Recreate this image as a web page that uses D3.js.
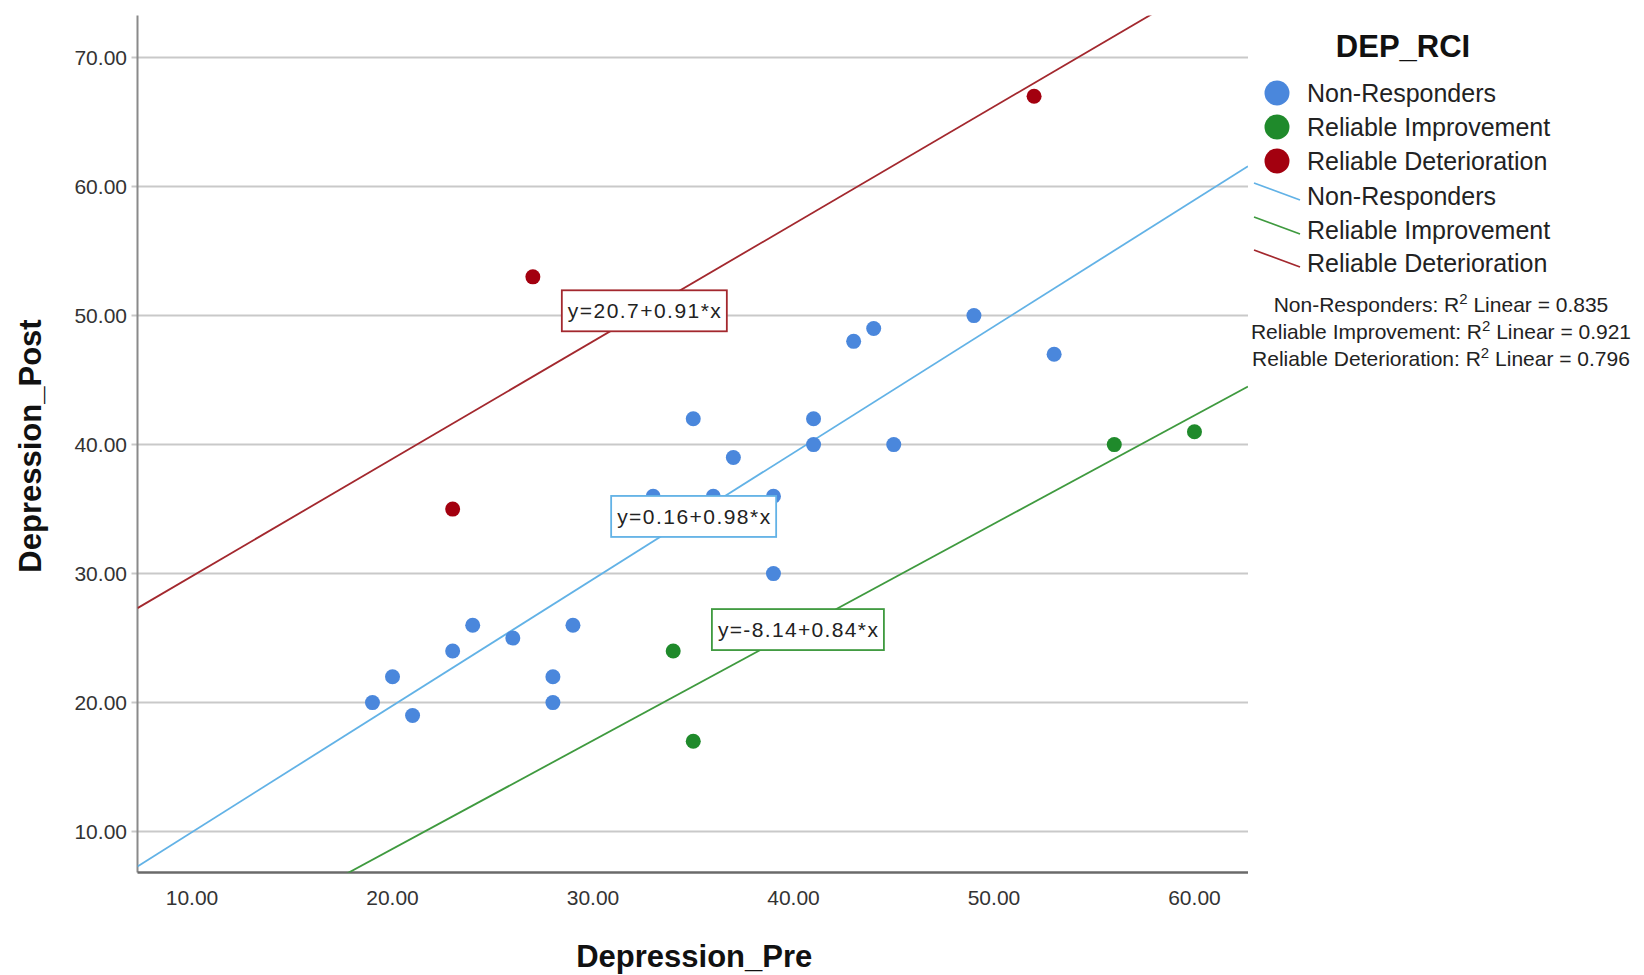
<!DOCTYPE html>
<html>
<head>
<meta charset="utf-8">
<script src="https://cdn.jsdelivr.net/npm/d3@7"></script>
<style>
  html, body { margin: 0; padding: 0; background: #fff; }
  svg { display: block; font-family: Arial, "Liberation Sans", sans-serif; }
</style>
</head>
<body>
<svg id="chart" width="1644" height="975"></svg>
<script>
// Groups from the reliable change index
const groups = ["Non-Responders", "Reliable Improvement", "Reliable Deterioration"];

// Depression scores before and after, per group
const nonRespPre  = [19, 20, 21, 23, 24, 26, 28, 28, 29, 33, 35, 36, 37, 39, 39, 41, 41, 43, 44, 45, 49, 53];
const nonRespPost = [20, 22, 19, 24, 26, 25, 22, 20, 26, 36, 42, 36, 39, 36, 30, 42, 40, 48, 49, 40, 50, 47];
const improvPre   = [34, 35, 56, 60];
const improvPost  = [24, 17, 40, 41];
const deterPre    = [23, 27, 52];
const deterPost   = [35, 53, 67];

// Linear fits per group: intercept, slope, R squared
const fitIntercept = [0.16, -8.14, 20.7];
const fitSlope     = [0.98, 0.84, 0.91];
const fitR2        = [0.835, 0.921, 0.796];
const fitLabels    = ["y=0.16+0.98*x", "y=-8.14+0.84*x", "y=20.7+0.91*x"];
// where each equation box sits, in data units (centre)
const labelAtX = [35.02, 40.22, 32.56];
const labelAtY = [34.43, 25.66, 50.37];

const xTicks = [10, 20, 30, 40, 50, 60];
const yTicks = [10, 20, 30, 40, 50, 60, 70];

const pointColors = ["#4a87dc", "#1f8a2b", "#a3000f"];
const lineColors  = ["#62b2e6", "#3f9a3f", "#a3282e"];

const series = [
  { pre: nonRespPre, post: nonRespPost },
  { pre: improvPre,  post: improvPost },
  { pre: deterPre,   post: deterPost }
];

const svg = d3.select("#chart");
const plotL = 137.5, plotR = 1248, plotT = 15.5, plotB = 872.5;

const x = d3.scaleLinear().domain([7.28, 62.67]).range([plotL, plotR]);
const y = d3.scaleLinear().domain([6.83, 73.26]).range([plotB, plotT]);
const fmt = d3.format(".2f");

// horizontal gridlines
svg.append("g").selectAll("line").data(yTicks).join("line")
  .attr("x1", plotL - 6).attr("x2", plotR)
  .attr("y1", d => y(d)).attr("y2", d => y(d))
  .attr("stroke", "#c9c9c9").attr("stroke-width", 2);

// y axis labels
svg.append("g").selectAll("text").data(yTicks).join("text")
  .attr("x", 127).attr("y", d => y(d)).attr("dy", "0.35em")
  .attr("text-anchor", "end").attr("font-size", 21).attr("fill", "#333")
  .text(d => fmt(d));

// x axis labels
svg.append("g").selectAll("text").data(xTicks).join("text")
  .attr("x", d => x(d)).attr("y", 898).attr("dy", "0.35em")
  .attr("text-anchor", "middle").attr("font-size", 21).attr("fill", "#333")
  .text(d => fmt(d));

// axis lines
svg.append("line").attr("x1", plotL).attr("x2", plotL).attr("y1", plotT).attr("y2", plotB)
  .attr("stroke", "#8a8a8a").attr("stroke-width", 2);
svg.append("line").attr("x1", plotL).attr("x2", plotR).attr("y1", plotB).attr("y2", plotB)
  .attr("stroke", "#6a6a6a").attr("stroke-width", 2.5);

// axis titles
svg.append("text").attr("x", x(35.05)).attr("y", 956).attr("dy", "0.35em")
  .attr("text-anchor", "middle").attr("font-size", 31).attr("font-weight", "bold").attr("fill", "#111")
  .text("Depression_Pre");
svg.append("text").attr("transform", "translate(30,446) rotate(-90)").attr("dy", "0.35em")
  .attr("text-anchor", "middle").attr("font-size", 31).attr("font-weight", "bold").attr("fill", "#111")
  .text("Depression_Post");

// clip for fit lines
svg.append("clipPath").attr("id", "plotClip").append("rect")
  .attr("x", plotL).attr("y", plotT).attr("width", plotR - plotL).attr("height", plotB - plotT);

const [x0, x1] = x.domain();
svg.append("g").attr("clip-path", "url(#plotClip)")
  .selectAll("line").data(groups).join("line")
  .attr("x1", x(x0)).attr("x2", x(x1))
  .attr("y1", (d, i) => y(fitIntercept[i] + fitSlope[i] * x0))
  .attr("y2", (d, i) => y(fitIntercept[i] + fitSlope[i] * x1))
  .attr("stroke", (d, i) => lineColors[i]).attr("stroke-width", 1.8);

// points
series.forEach((s, i) => {
  svg.append("g").selectAll("circle").data(s.pre).join("circle")
    .attr("cx", d => x(d)).attr("cy", (d, j) => y(s.post[j]))
    .attr("r", 7.5).attr("fill", pointColors[i]);
});

// equation boxes
groups.forEach((g, i) => {
  const cx = x(labelAtX[i]), cy = y(labelAtY[i]);
  const w = i === 1 ? 172 : 165, h = 41;
  svg.append("rect").attr("x", cx - w / 2).attr("y", cy - h / 2).attr("width", w).attr("height", h)
    .attr("fill", "#fff").attr("stroke", lineColors[i]).attr("stroke-width", 1.8);
  svg.append("text").attr("x", cx).attr("y", cy).attr("dy", "0.36em")
    .attr("text-anchor", "middle").attr("font-size", 21).attr("fill", "#222")
    .attr("textLength", w - 12).attr("lengthAdjust", "spacing")
    .text(fitLabels[i]);
});

// legend
svg.append("text").attr("x", 1403).attr("y", 46).attr("dy", "0.35em")
  .attr("text-anchor", "middle").attr("font-size", 31).attr("font-weight", "bold").attr("fill", "#111")
  .text("DEP_RCI");

const rowY = [93, 127, 161, 196, 230, 263];
groups.forEach((g, i) => {
  svg.append("circle").attr("cx", 1277).attr("cy", rowY[i]).attr("r", 12.5).attr("fill", pointColors[i]);
  svg.append("text").attr("x", 1307).attr("y", rowY[i]).attr("dy", "0.36em")
    .attr("font-size", 25).attr("fill", "#222").text(g);
});
groups.forEach((g, i) => {
  const ry = rowY[i + 3];
  svg.append("line").attr("x1", 1254).attr("y1", ry - 13).attr("x2", 1300).attr("y2", ry + 4)
    .attr("stroke", lineColors[i]).attr("stroke-width", 1.8);
  svg.append("text").attr("x", 1307).attr("y", ry).attr("dy", "0.36em")
    .attr("font-size", 25).attr("fill", "#222").text(g);
});

// R squared notes
const r2Y = [305, 332, 359];
groups.forEach((g, i) => {
  const t = svg.append("text").attr("x", 1441).attr("y", r2Y[i] + 7)
    .attr("text-anchor", "middle").attr("font-size", 21).attr("fill", "#222");
  t.append("tspan").text(g + ": R");
  t.append("tspan").attr("font-size", 15).attr("dy", -8).text("2");
  t.append("tspan").attr("dy", 8).text(" Linear = " + d3.format(".3f")(fitR2[i]));
});
</script>
</body>
</html>
